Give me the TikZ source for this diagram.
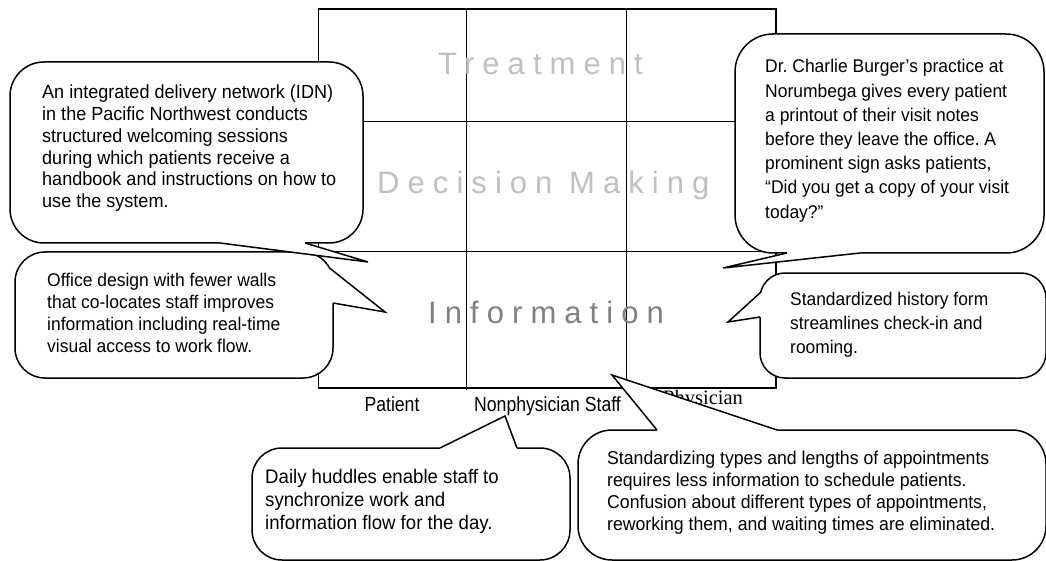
\documentclass[tikz,border=0pt]{standalone}
\usepackage{fontspec}
\usetikzlibrary{calc}
\setmainfont{Liberation Sans}
\newfontfamily\calloutfont[FakeStretch=0.95]{Liberation Sans}
\newfontfamily\axisfont[FakeStretch=0.86]{Liberation Sans}
\newfontfamily\axisserif{Liberation Serif}
\newfontfamily\spacedfont[LetterSpace=26]{Liberation Sans}
\definecolor{palegray}{RGB}{192,192,192}
\definecolor{midgray}{RGB}{128,128,128}
\frenchspacing

\tikzset{
  gridline/.style={draw=black, line width=1.3pt},
  bubble/.style={draw=black, fill=white, line width=1.5pt, line join=round},
  tailline/.style={draw=black, line width=1.5pt, line join=miter},
  % placed by the baseline of the last line
  bubbletext/.style={anchor=base west, align=left, inner sep=0pt},
  rowlabel/.style={anchor=base west, inner sep=0pt, font=\spacedfont\fontsize{31}{31}\selectfont},
  collabel/.style={anchor=base, inner sep=0pt, font=\axisfont\fontsize{20.5}{24}\selectfont},
}

% rounded callout box with a wedge tail:
% #1,#2 opposite corners, #3 corner radius, #4 tail base, #5 tail tip, #6 tail base, #7 inward shift
\newcommand\speechbox[7]{%
  \draw[bubble, rounded corners=#3] #1 rectangle #2;
  \fill[white] #4 -- #5 -- #6 -- ($#6+#7$) -- ($#4+#7$) -- cycle;
  \draw[tailline] #4 -- #5 -- #6;
}

\begin{document}
\begin{tikzpicture}[x=1pt, y=-1pt]
\useasboundingbox (0,0) rectangle (1046,561);
\fill[white] (0,0) rectangle (1046,561);

% 3 x 3 grid
\draw[gridline] (318.5,9) rectangle (776,388);
\draw[gridline] (466.7,9) -- (466.7,390);
\draw[gridline] (626.7,9) -- (626.7,388);
\draw[gridline] (318.5,121.7) -- (776,121.7);
\draw[gridline] (318.5,251.7) -- (776,251.7);

% row titles
\node[rowlabel, text=palegray] (treat) at (438,75) {Treatment};
\node[rowlabel, text=palegray] (decide) at (377,194) {Decision Making};
\node[rowlabel, text=midgray] (inform) at (428,323) {Information};

% column titles
\node[collabel] (patient) at (392,411) {Patient};
\node[collabel] (staff) at (547.5,411) {Nonphysician Staff};
\node[anchor=base west, inner sep=0pt, font=\axisserif\fontsize{20.5}{24}\selectfont] (phys) at (663,404) {Physician};

% office design
\speechbox{(15,252)}{(333,378)}{30}{(329.5,268)}{(385,312)}{(333,303)}{(-4,0)}
\node[bubbletext, font=\calloutfont\fontsize{18.4}{22.2}\selectfont] (office) at (47,352.6)
  {Office design with fewer walls\\that co-locates staff improves\\information including real-time\\visual access to work flow.};

% welcoming sessions
\speechbox{(10,62)}{(363,243)}{34}{(305,243)}{(368,262)}{(220,243)}{(0,-4)}
\node[bubbletext, font=\calloutfont\fontsize{19}{21.7}\selectfont] (idn) at (42,207.5)
  {An integrated delivery network (IDN)\\in the Pacific Northwest conducts\\structured welcoming sessions\\during which patients receive a\\handbook and instructions on how to\\use the system.};

% visit notes
\speechbox{(735,34)}{(1044,253)}{38}{(787,253)}{(723,268)}{(860,253)}{(0,-4)}
\node[bubbletext, font=\calloutfont\fontsize{18.4}{24.2}\selectfont] (notes) at (765,218.2)
  {Dr. Charlie Burger’s practice at\\Norumbega gives every patient\\a printout of their visit notes\\before they leave the office. A\\prominent sign asks patients,\\“Did you get a copy of your visit\\today?”};

% history form
\speechbox{(760,273)}{(1046,378)}{25}{(761,292)}{(728,322)}{(760,317)}{(4,0)}
\node[bubbletext, font=\calloutfont\fontsize{18.3}{24}\selectfont] (history) at (790,353)
  {Standardized history form\\streamlines check-in and\\rooming.};

% huddles
\speechbox{(252,448)}{(570,560)}{30}{(440,448)}{(505,416)}{(517,448)}{(0,4)}
\node[bubbletext, font=\calloutfont\fontsize{19.6}{23.3}\selectfont] (huddle) at (265,529.6)
  {Daily huddles enable staff to\\synchronize work and\\information flow for the day.};

% appointment types
\speechbox{(578,430)}{(1046,560)}{34}{(657,430)}{(612,375)}{(777,430)}{(0,4)}
\node[bubbletext, font=\calloutfont\fontsize{18.6}{22.3}\selectfont] (appt) at (607,530.9)
  {Standardizing types and lengths of appointments\\requires less information to schedule patients.\\Confusion about different types of appointments,\\reworking them, and waiting times are eliminated.};
\end{tikzpicture}
\end{document}
